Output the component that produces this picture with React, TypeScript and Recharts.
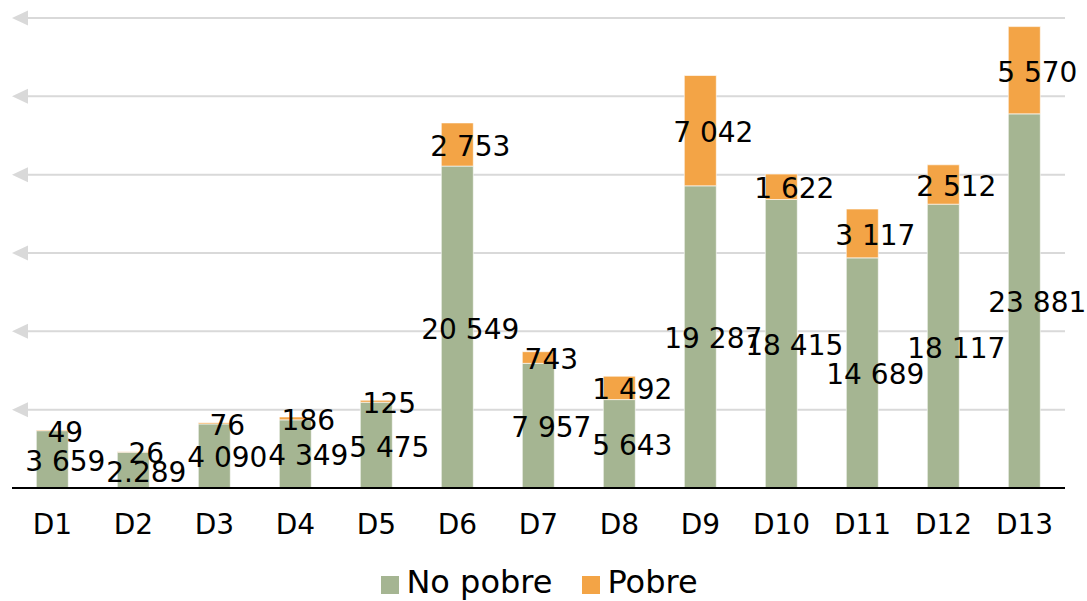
import React from "react";
import { BarChart, Bar, XAxis, YAxis, CartesianGrid, Legend, LabelList } from "recharts";

const categories = ["D1", "D2", "D3", "D4", "D5", "D6", "D7", "D8", "D9", "D10", "D11", "D12", "D13"];
const noPobre = [3659, 2289, 4090, 4349, 5475, 20549, 7957, 5643, 19287, 18415, 14689, 18117, 23881];
const pobre = [49, 26, 76, 186, 125, 2753, 743, 1492, 7042, 1622, 3117, 2512, 5570];
const noPobreLabels = ["3 659", "2.289", "4 090", "4 349", "5 475", "20 549", "7 957", "5 643", "19 287", "18 415", "14 689", "18 117", "23 881"];
const pobreLabels = ["49", "26", "76", "186", "125", "2 753", "743", "1 492", "7 042", "1 622", "3 117", "2 512", "5 570"];
const yTicks = [0, 5000, 10000, 15000, 20000, 25000, 30000];

const GREEN = "#A5B592";
const ORANGE = "#F3A446";
const FONT = "'DejaVu Sans', Verdana, sans-serif";

const data = categories.map((c, i) => ({
  name: c,
  noPobre: noPobre[i],
  pobre: pobre[i],
  noPobreLabel: noPobreLabels[i],
  pobreLabel: pobreLabels[i],
}));

const renderLabel = (props: any) => {
  const { x, y, width, height, value } = props;
  return (
    <text
      x={Number(x) + Number(width) / 2 + 13}
      y={Number(y) + Number(height) / 2 + 2}
      textAnchor="middle"
      dominantBaseline="central"
      fontFamily={FONT}
      fontSize={28}
      fill="#000"
    >
      {value}
    </text>
  );
};

const gridLine = (props: any) => {
  const { x1, y1, x2, y2, index } = props;
  const bottom = Number(props.y) + Number(props.height);
  const isBase = Math.abs(y1 - bottom) < 1;
  if (isBase) return <g key={`g-${index}`} />;
  return (
    <g key={`g-${index}`}>
      <line x1={x1 + 10} y1={y1} x2={x2} y2={y2} stroke="#D9D9D9" strokeWidth={2} />
      <polygon points={`${x1},${y1} ${x1 + 16},${y1 - 7.5} ${x1 + 16},${y1 + 7.5}`} fill="#D9D9D9" />
    </g>
  );
};

const XTick = (props: any) => {
  const { x, y, payload } = props;
  return (
    <text x={x} y={y + 38} textAnchor="middle" fontFamily={FONT} fontSize={28} fill="#000">
      {payload.value}
    </text>
  );
};

const LegendContent = () => (
  <div
    style={{
      display: "flex",
      justifyContent: "center",
      alignItems: "center",
      fontFamily: FONT,
      fontSize: 32,
      color: "#000",
      height: 45,
      position: "relative",
      top: 3,
      left: 1,
    }}
  >
    <span style={{ display: "flex", alignItems: "center", marginRight: 30 }}>
      <span style={{ width: 18, height: 18, background: GREEN, display: "inline-block", marginRight: 7, marginTop: 7 }} />
      No pobre
    </span>
    <span style={{ display: "flex", alignItems: "center" }}>
      <span style={{ width: 18, height: 18, background: ORANGE, display: "inline-block", marginRight: 7, marginTop: 7 }} />
      Pobre
    </span>
  </div>
);

export default function App() {
  return (
    <div style={{ position: "absolute", left: 0, top: 0, width: 1087, height: 601, background: "#fff" }}>
      <BarChart
        width={1087}
        height={601}
        data={data}
        margin={{ top: 18, right: 22, left: 12, bottom: 0 }}
        barCategoryGap="30%"
      >
        <CartesianGrid vertical={false} horizontal={gridLine} />
        <YAxis hide domain={[0, 30000]} ticks={yTicks} />
        <XAxis
          dataKey="name"
          height={68}
          tickLine={false}
          axisLine={{ stroke: "#000", strokeWidth: 2 }}
          tick={<XTick />}
          interval={0}
        />
        <Legend verticalAlign="bottom" content={<LegendContent />} />
        <Bar dataKey="noPobre" stackId="a" fill={GREEN} stroke="#ffffff" strokeOpacity={0.6} strokeWidth={1} isAnimationActive={false} name="No pobre">
          <LabelList dataKey="noPobreLabel" content={renderLabel} />
        </Bar>
        <Bar dataKey="pobre" stackId="a" fill={ORANGE} stroke="#ffffff" strokeOpacity={0.6} strokeWidth={1} isAnimationActive={false} name="Pobre">
          <LabelList dataKey="pobreLabel" content={renderLabel} />
        </Bar>
      </BarChart>
    </div>
  );
}
